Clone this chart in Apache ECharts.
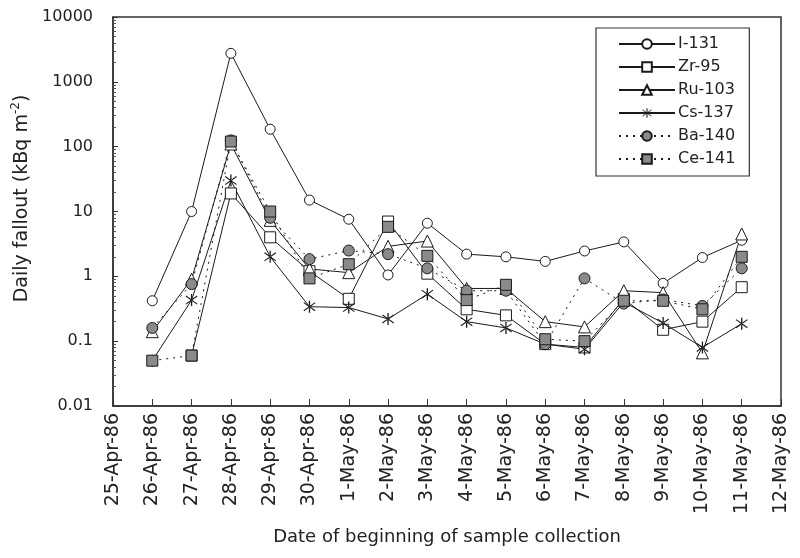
<!DOCTYPE html>
<html><head><meta charset="utf-8">
<script src="https://cdn.jsdelivr.net/npm/echarts@6/dist/echarts.min.js"></script>
<style>html,body{margin:0;padding:0;background:#fff}#c{width:800px;height:558px}</style>
</head><body><div id="c"></div>
<script>
const categories = ['25-Apr-86','26-Apr-86','27-Apr-86','28-Apr-86','29-Apr-86','30-Apr-86','1-May-86','2-May-86','3-May-86','4-May-86','5-May-86','6-May-86','7-May-86','8-May-86','9-May-86','10-May-86','11-May-86','12-May-86'];
const yTickLabels = ['0.01','0.1','1','10','100','1000','10000'];
const i131 = [null,0.42,10,2750,186,15,7.6,1.05,6.6,2.2,2.0,1.7,2.46,3.4,0.78,1.95,3.6,null];
const zr95 = [null,null,0.06,19,4.0,1.2,0.45,7.0,1.1,0.31,0.25,0.09,0.08,0.45,0.15,0.2,0.68,null];
const ru103 = [null,0.14,0.9,110,7.3,1.3,1.14,2.9,3.5,0.65,0.65,0.2,0.166,0.6,0.56,0.066,4.5,null];
const cs137 = [null,0.05,0.43,30,2.0,0.34,0.33,0.22,0.53,0.2,0.16,0.09,0.075,0.4,0.19,0.08,0.186,null];
const ba140 = [null,0.16,0.76,125,8,1.84,2.5,2.2,1.33,0.6,0.6,0.09,0.93,0.38,0.44,0.35,1.33,null];
const ce141 = [null,0.05,0.06,120,10,0.93,1.54,5.8,2.07,0.43,0.74,0.107,0.1,0.42,0.42,0.31,2.0,null];
const seriesNames = ['I-131','Zr-95','Ru-103','Cs-137','Ba-140','Ce-141'];

const asterisk = 'path://M-0.6,-6L0.6,-6L0.6,6L-0.6,6Z M-5.5,-3.6L-4.9,-4.5L5.5,3.6L4.9,4.5Z M-5.5,3.6L-4.9,4.5L5.5,-3.6L4.9,-4.5Z';
const lc = '#1a1a1a';
const font = 'DejaVu Sans, sans-serif';
function mk(name, data, symbol, size, fill, dotted) {
  return {
    name, type: 'line', data, symbol, symbolSize: size, connectNulls: false,
    lineStyle: {color: lc, width: 1, type: dotted ? [2, 5] : 'solid'},
    itemStyle: {color: fill, borderColor: lc, borderWidth: symbol === asterisk ? 0 : 1},
    emphasis: {disabled: true}, animation: false
  };
}
const chart = echarts.init(document.getElementById('c'), null, {renderer: 'canvas'});
chart.setOption({
  backgroundColor: '#fff',
  animation: false,
  textStyle: {fontFamily: font, color: '#222'},
  grid: {left: 113, right: 19, top: 17, bottom: 152, show: true, borderColor: '#333', borderWidth: 1.5},
  legend: {
    orient: 'vertical', left: 596, top: 28, width: 169,
    padding: [8, 14, 9, 22], itemGap: 7, itemWidth: 56, itemHeight: 12,
    borderColor: '#333', borderWidth: 1.2,
    textStyle: {fontSize: 16, color: '#222', fontFamily: font, padding: [0, 0, 0, -2]},
    data: seriesNames
  },
  xAxis: {
    type: 'category', data: categories, boundaryGap: false,
    axisLine: {lineStyle: {color: '#333', width: 1.5}},
    axisTick: {inside: true, length: 7, lineStyle: {color: '#333'}},
    axisLabel: {rotate: 90, fontSize: 19, color: '#222', margin: 7, interval: 0, fontFamily: font},
    splitLine: {show: false},
    name: 'Date of beginning of sample collection', nameLocation: 'middle', nameGap: 122,
    nameTextStyle: {fontSize: 18, color: '#222', fontFamily: font}
  },
  yAxis: {
    type: 'log', logBase: 10, min: 0.01, max: 10000,
    axisLine: {show: true, lineStyle: {color: '#333', width: 1.5}},
    axisTick: {show: true, inside: true, length: 5, lineStyle: {color: '#333'}},
    minorTick: {show: true, splitNumber: 9, length: 3, lineStyle: {color: '#555'}},
    splitLine: {show: false},
    axisLabel: {fontSize: 16, color: '#222', margin: 20, fontFamily: font,
      formatter: v => yTickLabels[Math.round(Math.log10(v)) + 2]},
    name: '{a|Daily fallout (kBq m}{s|-2}{a|)}', nameLocation: 'middle', nameGap: 76,
    nameTextStyle: {padding: [0, 0, 0, 26], rich: {a: {fontSize: 19, color: '#222', fontFamily: font}, s: {fontSize: 12, color: '#222', fontFamily: font, verticalAlign: 'top', padding: [0, 0, 12, 0]}}}
  },
  series: [
    mk('I-131', i131, 'circle', 10, '#fff', false),
    mk('Zr-95', zr95, 'rect', 11, '#fff', false),
    mk('Ru-103', ru103, 'triangle', 12, '#fff', false),
    mk('Cs-137', cs137, asterisk, 12, lc, false),
    mk('Ba-140', ba140, 'circle', 11, '#8a8a8a', true),
    mk('Ce-141', ce141, 'rect', 11, '#8a8a8a', true)
  ]
});
</script></body></html>
